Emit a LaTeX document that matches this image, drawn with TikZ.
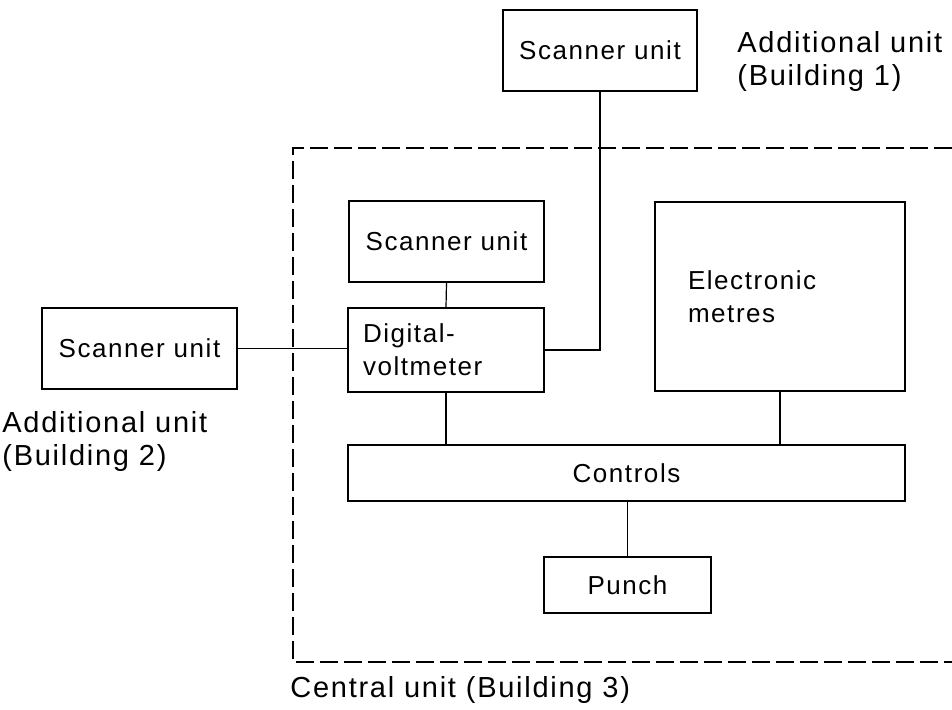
\documentclass[tikz,border=0pt]{standalone}
\usepackage{fontspec}
\setmainfont{Liberation Sans}[LetterSpace=6]
\usepackage{tikz}
\usetikzlibrary{positioning, calc}

\begin{document}
\begin{tikzpicture}[x=0.5pt, y=-0.5pt,
          blk/.style={rectangle, draw, line width=1.1pt, inner sep=0pt,
                      font=\fontsize{13}{16.5}\selectfont},
          lbl/.style={anchor=west, align=left, inner sep=0pt,
                      font=\fontsize{14.5}{16.5}\selectfont},
          wire/.style={line width=0.6pt},
          frame/.style={line width=0.8pt, dash pattern=on 9pt off 3pt}
        ]
        \useasboundingbox (0,0) rectangle (952,710);

        % Central unit frame (open to the right)
        \draw[frame] (952,148) -- (293,148) -- (293,662) -- (952,662);
        \node[lbl] (central) at (290,690) {Central unit (Building 3)};

        % Additional units
        \node[blk, minimum width=97pt, minimum height=40.5pt] (scanA) at (600,50.5) {Scanner unit};
        \node[lbl] (addA) at (737,62) {Additional unit\\(Building 1)};
        \node[blk, minimum width=97.5pt, minimum height=40.5pt] (scanC) at (139.5,348.5) {Scanner unit};
        \node[lbl] (addC) at (2,442) {Additional unit\\(Building 2)};

        % Central unit blocks
        \node[blk, minimum width=97.5pt, minimum height=40.5pt] (scanB) at (446.5,241.5) {Scanner unit};
        \node[blk, minimum width=98pt, minimum height=42pt, text width=83pt,
              inner xsep=7.5pt, align=left] (dvm) at (446,350) {Digital-\\voltmeter};
        \node[blk, minimum width=125pt, minimum height=94.5pt, text width=92pt,
              inner xsep=16.5pt, align=left] (metres) at (780,296.5) {Electronic\\metres};
        \node[blk, minimum width=278.5pt, minimum height=28pt] (ctrl) at (626.5,473) {Controls};
        \node[blk, minimum width=83.5pt, minimum height=28pt] (punch) at (627.5,585) {Punch};

        % Connections
        \draw[wire] (scanA.south) |- (dvm.east);
        \draw[wire] (scanC.east) -- (scanC.east -| dvm.west);
        \draw[wire] (scanB.south) -- (dvm.north);
        \draw[wire] (dvm.south) -- (dvm.south |- ctrl.north);
        \draw[wire] (metres.south) -- (metres.south |- ctrl.north);
        \draw[wire] (punch.north |- ctrl.south) -- (punch.north);
      \end{tikzpicture}
\end{document}
